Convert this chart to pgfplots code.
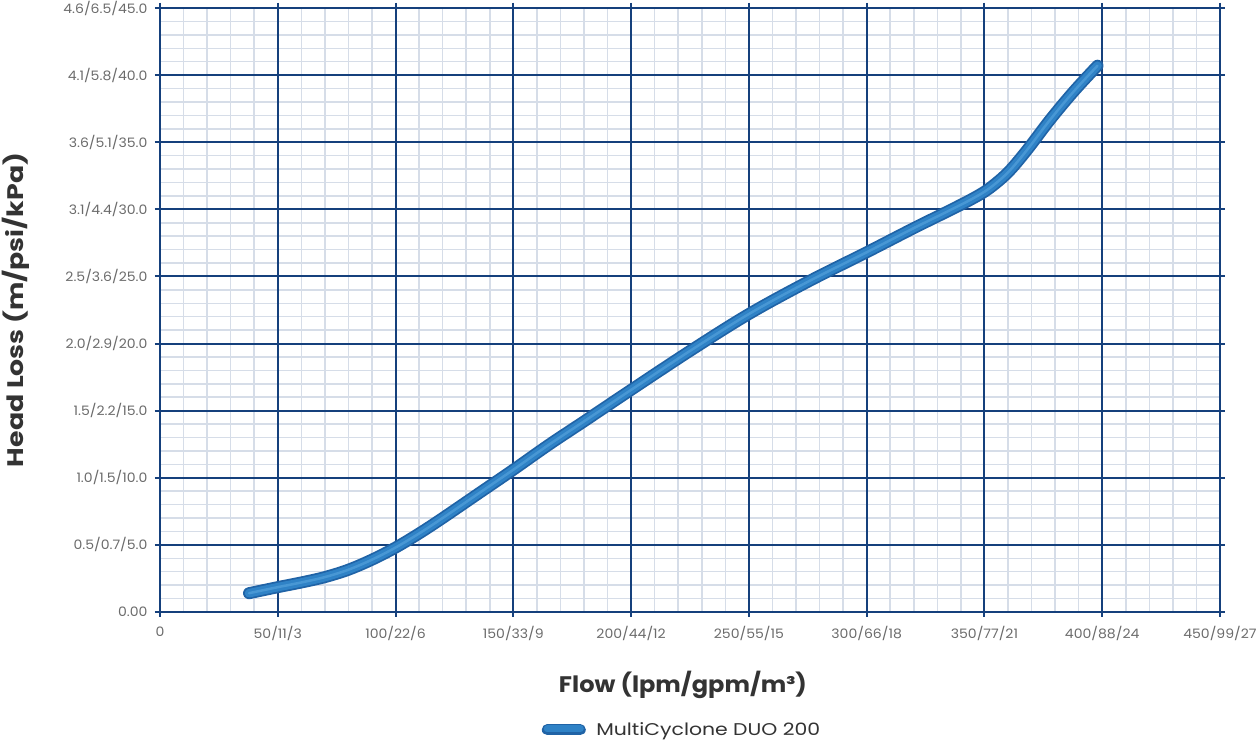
\documentclass[border=0pt]{standalone}
\usepackage{pgfplots}
\pgfplotsset{compat=1.18}
\usepackage{fontspec}
\setmainfont{Poppins}
\definecolor{navy}{HTML}{15407C}
\definecolor{minorc}{HTML}{D6DDE8}
\definecolor{tickc}{HTML}{6B6B6B}
\definecolor{labc}{HTML}{333333}
\definecolor{tubeD}{HTML}{2063A6}
\definecolor{tubeM}{HTML}{2F82C6}
\definecolor{tubeL}{HTML}{5AA6DE}
\pgfplotstableread{
x y
37.8 1.4
50 1.85
60 2.2
70 2.6
80 3.15
90 3.9
100 4.8
110 5.85
120 7.0
135 8.8
150 10.6
165 12.45
180 14.2
200 16.55
225 19.45
250 22.2
275 24.6
300 26.8
320 28.6
335 29.9
345 30.8
352 31.55
360 32.75
368 34.4
378 36.7
388 38.8
398 40.7
}\headloss
\begin{document}
\begin{tikzpicture}
\useasboundingbox (-160pt,-131pt) rectangle (1099pt,612pt);
\begin{axis}[
  at={(0pt,0pt)}, anchor=south west,
  scale only axis, width=1060pt, height=604pt,
  xmin=0, xmax=450, ymin=0, ymax=45,
  xtick={0,50,...,450}, ytick={0,5,...,45},
  xticklabels={0,50/11/3,100/22/6,150/33/9,200/44/12,250/55/15,300/66/18,350/77/21,400/88/24,450/99/27},
  yticklabels={0.00,0.5/0.7/5.0,1.0/1.5/10.0,1.5/2.2/15.0,2.0/2.9/20.0,2.5/3.6/25.0,3.1/4.4/30.0,3.6/5.1/35.0,4.1/5.8/40.0,4.6/6.5/45.0},
  minor x tick num=4, minor y tick num=4,
  grid=minor,
  minor grid style={minorc, line width=1.5pt},
  extra x ticks={0,50,...,450}, extra y ticks={0,5,...,45},
  extra x tick labels={}, extra y tick labels={},
  extra tick style={grid=major, major grid style={navy, line width=2pt}},
  axis line style={navy, line width=2pt},
  tick align=outside, major tick length=5pt, minor tick length=0pt,
  major tick style={navy, line width=2pt},
  tick label style={font=\fontsize{13}{15}\selectfont\addfontfeature{FakeStretch=1.08}, text=tickc},
  xticklabel style={yshift=-6pt},
  yticklabel style={xshift=-4pt},
  /pgf/number format/assume math mode=true,
  xlabel={\addfontfeature{FakeStretch=1.07}Flow (lpm/gpm/m³)},
  ylabel={\addfontfeature{FakeStretch=1.19}Head Loss (m/psi/kPa)},
  label style={font=\fontsize{22.5}{26}\selectfont\bfseries, text=labc},
  xlabel style={at={(axis description cs:0.4934,-0.1209)}, anchor=center},
  ylabel style={at={(axis description cs:-0.1358,0.5)}, anchor=center},
  legend style={at={(axis description cs:0.4925,-0.195)}, anchor=center, draw=none, fill=none,
    font=\fontsize{17}{20}\selectfont\addfontfeature{FakeStretch=1.2}, text=labc},
  legend cell align=left,
]
\addplot[tubeD, line width=12pt, line cap=round, smooth, tension=0.55,
  legend image code/.code={
    \draw[line width=11pt,color=tubeD,line cap=round] (0pt,0pt) -- (33pt,0pt);
    \draw[line width=7pt,color=tubeM,line cap=round] (0pt,0.8pt) -- (33pt,0.8pt);
    \path (41pt,0pt);
  }] table[x=x,y=y] {\headloss};
\addlegendentry{MultiCyclone DUO 200}
\addplot[tubeM, line width=8.5pt, line cap=round, smooth, tension=0.55, forget plot] table[x=x,y=y] {\headloss};
\addplot[tubeL, line width=2.5pt, line cap=round, smooth, tension=0.55, forget plot, opacity=0.6] table[x=x,y=y] {\headloss};
\end{axis}
\end{tikzpicture}
\end{document}
